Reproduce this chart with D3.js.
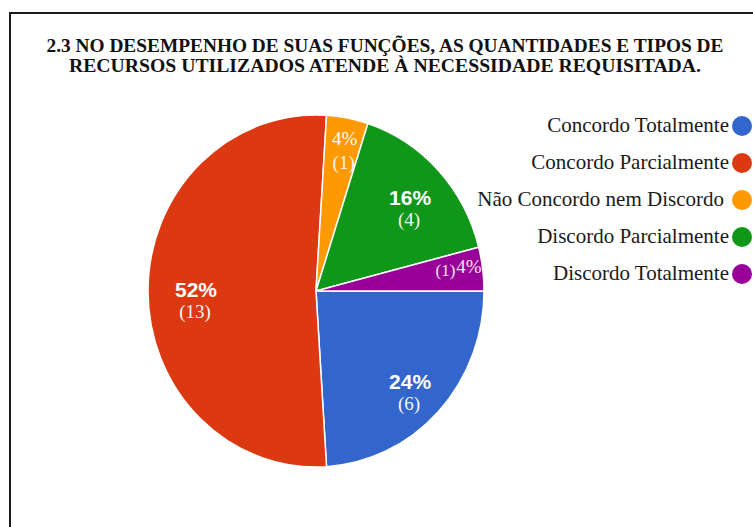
<!DOCTYPE html>
<html><head><meta charset="utf-8">
<script src="https://cdn.jsdelivr.net/npm/d3@7"></script>
<style>body{margin:0;background:#fff}svg{display:block}</style>
</head><body>
<svg id="c" width="753" height="527"></svg>
<script>
const titleLines = ["2.3 NO DESEMPENHO DE SUAS FUNÇÕES, AS QUANTIDADES E TIPOS DE",
                    "RECURSOS UTILIZADOS ATENDE À NECESSIDADE REQUISITADA."];
const categories = ["Concordo Totalmente","Concordo Parcialmente","Não Concordo nem Discordo","Discordo Parcialmente","Discordo Totalmente"];
const counts = [6, 13, 1, 4, 1];
const colors = ["#3366cc","#dc3912","#ff9900","#109618","#990099"];

const svg = d3.select("#c");
svg.append("path").attr("d","M10,527 L10,13 L753,13").attr("fill","none").attr("stroke","#1a1a1a").attr("stroke-width",2);

const tW = [677, 632];
titleLines.forEach((t,i)=>{
  svg.append("text").attr("x",385).attr("y",52+i*20).attr("text-anchor","middle")
    .attr("font-family","'Liberation Serif', 'Times New Roman', serif").attr("font-weight","bold")
    .attr("font-size",18.5).attr("fill","#111")
    .attr("textLength",tW[i]).attr("lengthAdjust","spacingAndGlyphs").text(t);
});

const total = d3.sum(counts);
const cx = 316, cy = 291, r = 168, sy = 1.048;
const pie = d3.pie().sort(null).startAngle(Math.PI/2).endAngle(Math.PI/2 + 2*Math.PI);
const arcs = pie(counts);
const arc = d3.arc().innerRadius(0).outerRadius(r);
const g = svg.append("g").attr("transform",`translate(${cx},${cy}) scale(1,${sy})`);
g.selectAll("path").data(arcs).join("path").attr("d",arc)
  .attr("fill",(d,i)=>colors[i]).attr("stroke","#fff").attr("stroke-width",1.5);

const fmt = d => Math.round(d.value/total*100) + "%";
const labelRadius = [0.76, 0.72, 0.88, 0.76, 0.86];
const lab = svg.append("g");
arcs.forEach((d,i)=>{
  const small = (d.endAngle-d.startAngle) < 0.3;
  const k = labelRadius[i];
  const a = d3.arc().innerRadius(0).outerRadius(2*r*k);
  const [x,y0] = a.centroid(d);
  const x1 = cx + x, y1 = cy + y0*sy;
  if (i===4) {
    lab.append("text").attr("x",x1-4).attr("y",y1+4).attr("text-anchor","end")
      .attr("font-family","'Liberation Serif', serif").attr("font-size",17).attr("fill","#f2e6f2").text("("+d.value+")");
    lab.append("text").attr("x",x1-3).attr("y",y1+1).attr("text-anchor","start")
      .attr("font-family","'Liberation Serif', serif").attr("font-size",19).attr("fill","#f2e6f2").text(fmt(d));
  } else {
    const pctFont = small ? "'Liberation Serif', serif" : "'Liberation Sans', Arial, sans-serif";
    lab.append("text").attr("x",x1+1).attr("y",y1+6).attr("text-anchor","middle")
      .attr("font-family",pctFont).attr("font-weight", small? "normal":"bold")
      .attr("font-size", small?19:21).attr("fill","#fff").text(fmt(d));
    lab.append("text").attr("x",x1).attr("y",y1+(small?30:27)).attr("text-anchor","middle")
      .attr("font-family","'Liberation Serif', serif").attr("font-size",19).attr("fill","#f4f4f4").text("("+d.value+")");
  }
});

const leg = svg.append("g");
categories.forEach((c,i)=>{
  const y = 126 + i*37;
  leg.append("circle").attr("cx",742).attr("cy",y).attr("r",10).attr("fill",colors[i]);
  leg.append("text").attr("x",i===2?724:729).attr("y",y+6).attr("text-anchor","end")
    .attr("font-family","'Liberation Serif', 'Times New Roman', serif").attr("font-size",21).attr("fill","#1a1a1a").text(c);
});
</script>
</body></html>
